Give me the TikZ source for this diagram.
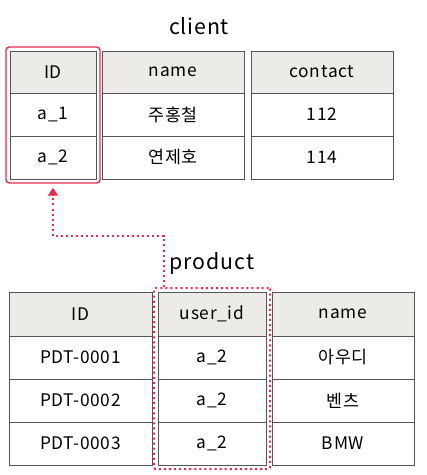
\documentclass[tikz,border=0pt]{standalone}
\usepackage{fontspec}
\setmainfont{Noto Sans CJK KR}[LetterSpace=4]
\usetikzlibrary{positioning,fit,arrows.meta}
\definecolor{headgray}{RGB}{237,235,232}
\definecolor{linegray}{RGB}{85,85,85}
\definecolor{keyred}{RGB}{230,45,75}
\begin{document}
\begin{tikzpicture}[x=0.75pt, y=-0.75pt]
    % Define Styles
        \tikzstyle{cell} = [rectangle, draw=linegray, fill=white, line width=0.75pt, inner sep=0pt, outer sep=0pt, text centered, minimum height=32.25pt, font=\fontsize{13}{15}\selectfont]
        \tikzstyle{head} = [cell, fill=headgray, minimum height=31.5pt]
        \tikzstyle{title} = [font=\fontsize{16}{18}\selectfont]
        \tikzstyle{keybox} = [draw=keyred, line width=1.1pt, rounded corners=2.5pt, inner sep=0pt]
        \tikzstyle{fkbox} = [draw=keyred, line width=1.5pt, dash pattern=on 1.5pt off 2.3pt, rounded corners=1pt, inner sep=0pt]
        \tikzstyle{fkline} = [draw=keyred, line width=1.5pt, dash pattern=on 1.5pt off 2.3pt, -{Triangle[width=7.5pt,length=6pt]}, shorten >=3pt]
        \useasboundingbox (0,0) rectangle (426,475);
    % Client table
        \node [title] (client) at (199,26) {client};
        \node [head, minimum width=64.5pt] (cid) at (53,72) {ID};
        \node [cell, minimum width=64.5pt, below=0pt of cid] (cid1) {a\_1};
        \node [cell, minimum width=64.5pt, below=0pt of cid1] (cid2) {a\_2};
        \node [head, minimum width=106.5pt] (cname) at (173,72) {name};
        \node [cell, minimum width=106.5pt, below=0pt of cname] (cname1) {주홍철};
        \node [cell, minimum width=106.5pt, below=0pt of cname1] (cname2) {연제호};
        \node [head, minimum width=106.5pt] (ccontact) at (322,72) {contact};
        \node [cell, minimum width=106.5pt, below=0pt of ccontact] (ccontact1) {112};
        \node [cell, minimum width=106.5pt, below=0pt of ccontact1] (ccontact2) {114};
        \node [keybox, inner sep=3pt, fit=(cid)(cid2)] (pkbox) {};
    % Product table
        \node [title] (product) at (212,263) {product};
        \node [head, minimum width=107.25pt, minimum height=33pt] (pid) at (80.5,314) {ID};
        \node [cell, minimum width=107.25pt, below=0pt of pid] (pid1) {PDT-0001};
        \node [cell, minimum width=107.25pt, below=0pt of pid1] (pid2) {PDT-0002};
        \node [cell, minimum width=107.25pt, below=0pt of pid2] (pid3) {PDT-0003};
        \node [head, minimum width=81pt, minimum height=33pt] (puser) at (212,314) {user\_id};
        \node [cell, minimum width=81pt, below=0pt of puser] (puser1) {a\_2};
        \node [cell, minimum width=81pt, below=0pt of puser1] (puser2) {a\_2};
        \node [cell, minimum width=81pt, below=0pt of puser2] (puser3) {a\_2};
        \node [head, minimum width=106.5pt, minimum height=33pt] (pname) at (343,314) {name};
        \node [cell, minimum width=106.5pt, below=0pt of pname] (pname1) {아우디};
        \node [cell, minimum width=106.5pt, below=0pt of pname1] (pname2) {벤츠};
        \node [cell, minimum width=106.5pt, below=0pt of pname2] (pname3) {BMW};
        \node [fkbox, inner sep=3pt, fit=(puser)(puser3)] (fkbox) {};
    % Edges
        \draw [fkline] ([xshift=8.25pt]fkbox.north west) -- ++(0,-51) -| (pkbox.south);
\end{tikzpicture}
\end{document}
